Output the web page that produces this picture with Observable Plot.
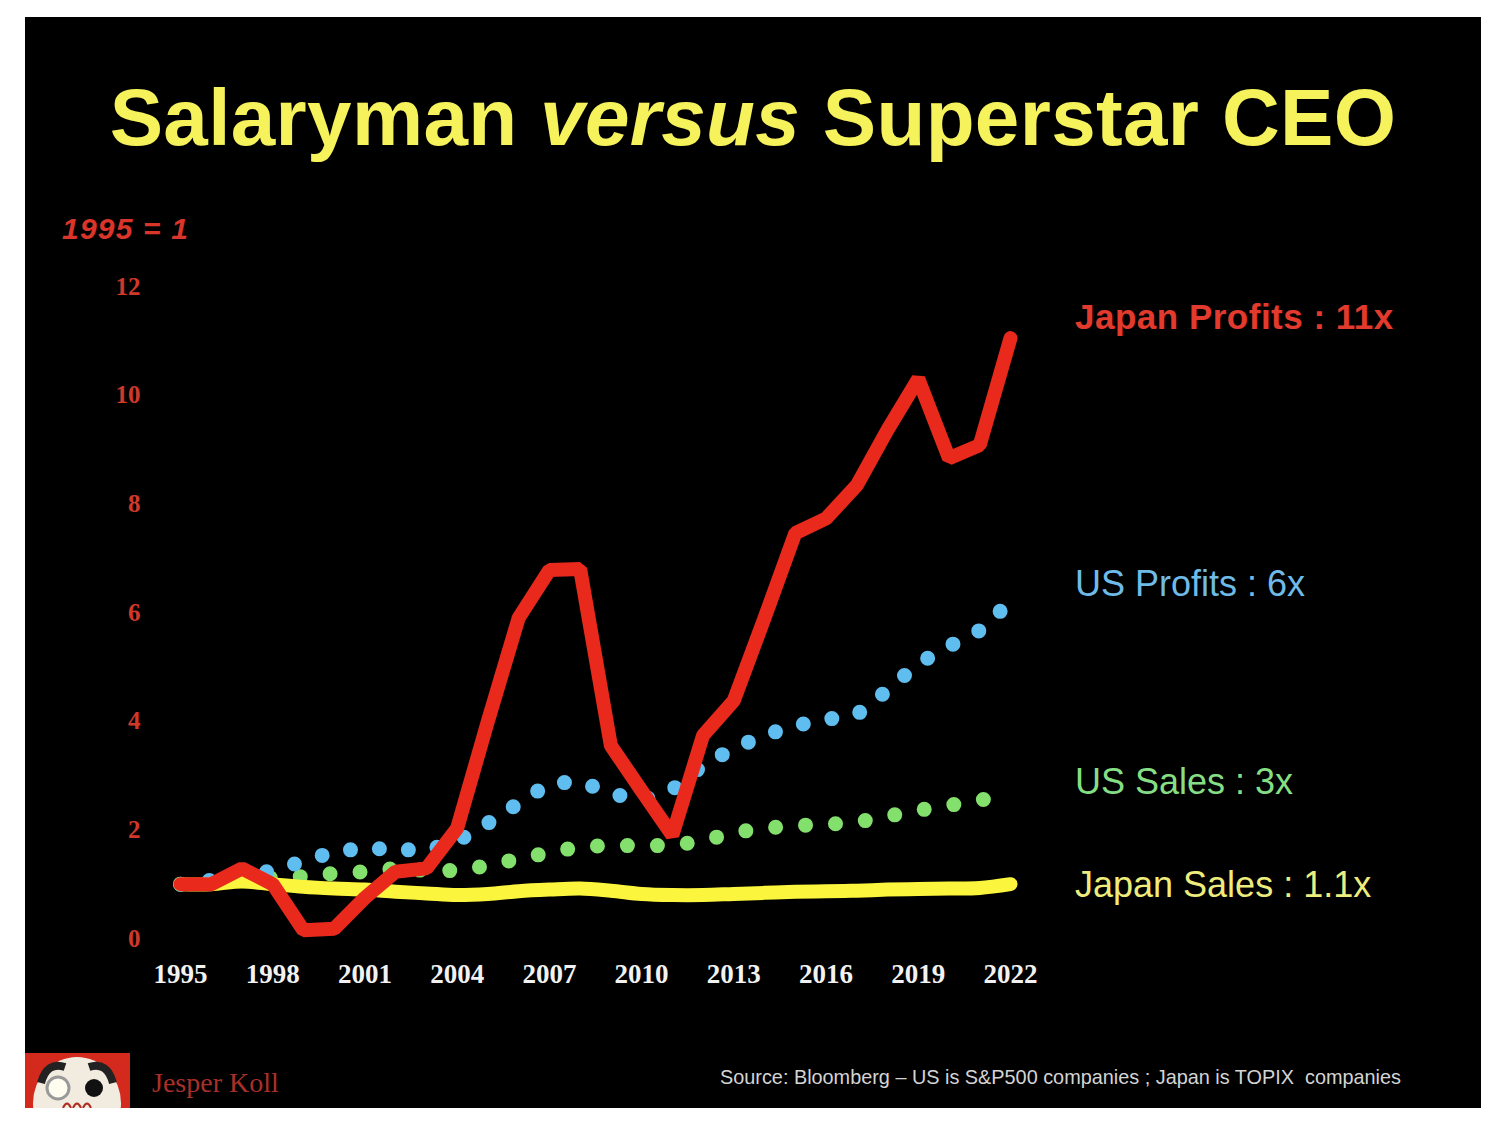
<!DOCTYPE html>
<html>
<head>
<meta charset="utf-8">
<script src="https://cdn.jsdelivr.net/npm/d3@7"></script>
<script src="https://cdn.jsdelivr.net/npm/@observablehq/plot@0.6"></script>
<style>
  html, body { margin: 0; padding: 0; background: #ffffff; }
  body { width: 1504px; height: 1124px; position: relative; overflow: hidden; }
  #panel { position: absolute; left: 25px; top: 17px; width: 1456px; height: 1091px; background: #000; overflow: hidden; }
  .t { position: absolute; white-space: nowrap; line-height: 1; }
  #title { left: 0; width: 1456px; text-align: center; top: 55px; font: bold 80px "Liberation Sans", Arial, sans-serif; color: #f6f25c; letter-spacing: 0.35px; }
  #title i { font-style: italic; }
  #unit { left: 37px; top: 195px; font: italic bold 30px "Liberation Sans", Arial, sans-serif; color: #d9352a; letter-spacing: 1.2px; }
  .lab { left: 1050px; font-family: "Liberation Sans", Arial, sans-serif; font-size: 36px; }
  #chart { position: absolute; left: 0; top: 200px; }
  #author { left: 127px; top: 1050px; font: 28px "Liberation Serif", "Times New Roman", serif; color: #a8302a; }
  #source { left: 695px; top: 1048px; font: 21px "Liberation Sans Narrow", "Liberation Sans", Arial, sans-serif; color: #d4d4d4; transform: scaleX(0.945); transform-origin: 0 0; }
  #logo { position: absolute; left: 0; top: 1036px; }
</style>
</head>
<body>
<div id="panel">
  <div class="t" id="title">Salaryman <i>versus</i> Superstar CEO</div>
  <div class="t" id="unit">1995 = 1</div>
  <div id="chart"></div>
  <div class="t lab" style="top:282px;font-size:35px;letter-spacing:0.5px;font-weight:bold;color:#e23a2c;">Japan Profits : 11x</div>
  <div class="t lab" style="top:549px;color:#6fbbe8;">US Profits : 6x</div>
  <div class="t lab" style="top:747px;color:#86de84;">US Sales : 3x</div>
  <div class="t lab" style="top:850px;color:#eeec7c;">Japan Sales : 1.1x</div>
  <svg id="logo" width="105" height="55" viewBox="0 0 105 55">
    <rect x="0" y="0" width="105" height="55" fill="#d42a1e"/>
    <ellipse cx="52" cy="50" rx="44" ry="46" fill="#f2ece0"/>
    <path d="M16 30 Q22 8 40 14" stroke="#222" stroke-width="8" fill="none"/>
    <path d="M88 30 Q82 8 64 14" stroke="#222" stroke-width="8" fill="none"/>
    <circle cx="33" cy="35" r="11" fill="#fffdf0" stroke="#999" stroke-width="3"/>
    <circle cx="69" cy="35" r="9" fill="#111"/>
    <path d="M38 55 Q42 46 46 55 M48 55 Q52 46 56 55 M58 55 Q62 46 66 55" stroke="#b02a20" stroke-width="2" fill="none"/>
  </svg>
  <div class="t" id="author">Jesper Koll</div>
  <div class="t" id="source">Source: Bloomberg – US is S&amp;P500 companies ; Japan is TOPIX&nbsp; companies</div>
</div>
<script>
const years = d3.range(1995, 2023);
const japanProfits = [1.0, 1.0, 1.29, 1.0, 0.15, 0.18, 0.75, 1.23, 1.29, 2.03, 4.0, 5.9, 6.78, 6.8, 3.55, 2.72, 1.9, 3.74, 4.38, 5.9, 7.46, 7.73, 8.34, 9.36, 10.3, 8.84, 9.08, 11.05];
const usProfits = [1.0, 1.07, 1.14, 1.25, 1.42, 1.6, 1.66, 1.64, 1.62, 1.79, 2.12, 2.49, 2.85, 2.89, 2.67, 2.54, 2.74, 3.19, 3.5, 3.74, 3.92, 4.03, 4.12, 4.57, 5.06, 5.38, 5.67, 6.2];
const usSales = [1.0, 1.05, 1.09, 1.12, 1.14, 1.2, 1.23, 1.29, 1.25, 1.25, 1.34, 1.47, 1.58, 1.69, 1.71, 1.71, 1.71, 1.8, 1.95, 2.03, 2.08, 2.1, 2.14, 2.25, 2.36, 2.45, 2.54, 2.7];
const japanSales = [1.0, 1.0, 1.05, 1.0, 0.95, 0.92, 0.9, 0.86, 0.83, 0.8, 0.82, 0.87, 0.9, 0.92, 0.88, 0.82, 0.8, 0.8, 0.82, 0.84, 0.86, 0.87, 0.88, 0.9, 0.91, 0.92, 0.93, 1.0];
const xTicks = [1995, 1998, 2001, 2004, 2007, 2010, 2013, 2016, 2019, 2022];
const yTicks = [0, 2, 4, 6, 8, 10, 12];

const rows = (vals) => years.map((y, i) => ({year: y, value: vals[i]}));

const chart = Plot.plot({
  width: 1456,
  height: 800,
  marginLeft: 155,
  marginRight: 471,
  marginTop: 69,
  marginBottom: 79,
  style: {background: "transparent", overflow: "visible"},
  x: {domain: [1995, 2022]},
  y: {domain: [0, 12]},
  marks: [
    Plot.axisX({ticks: xTicks, tickFormat: "d", tickSize: 0, tickPadding: 25, fill: "#f2f2f2",
      fontSize: 27, fontWeight: "bold", fontFamily: "'Liberation Serif', 'Times New Roman', serif", label: null}),
    Plot.axisY({ticks: yTicks, tickSize: 0, tickPadding: 40, fill: "#d0382a",
      fontSize: 25, fontWeight: "bold", fontFamily: "'Liberation Serif', 'Times New Roman', serif", label: null}),
    Plot.line(rows(usSales), {x: "year", y: "value", stroke: "#84e06c", strokeWidth: 15,
      strokeDasharray: "0 30", strokeLinecap: "round", strokeLinejoin: "round"}),
    Plot.line(rows(usProfits), {x: "year", y: "value", stroke: "#5fbdf0", strokeWidth: 15,
      strokeDasharray: "0 29", strokeLinecap: "round", strokeLinejoin: "round"}),
    Plot.line(rows(japanSales), {x: "year", y: "value", stroke: "#fbf53e", strokeWidth: 14,
      curve: "catmull-rom", strokeLinecap: "round"}),
    Plot.line(rows(japanProfits), {x: "year", y: "value", stroke: "#e8291c", strokeWidth: 14,
      strokeLinecap: "round", strokeLinejoin: "miter"})
  ]
});
document.getElementById("chart").appendChild(chart);
</script>
</body>
</html>
